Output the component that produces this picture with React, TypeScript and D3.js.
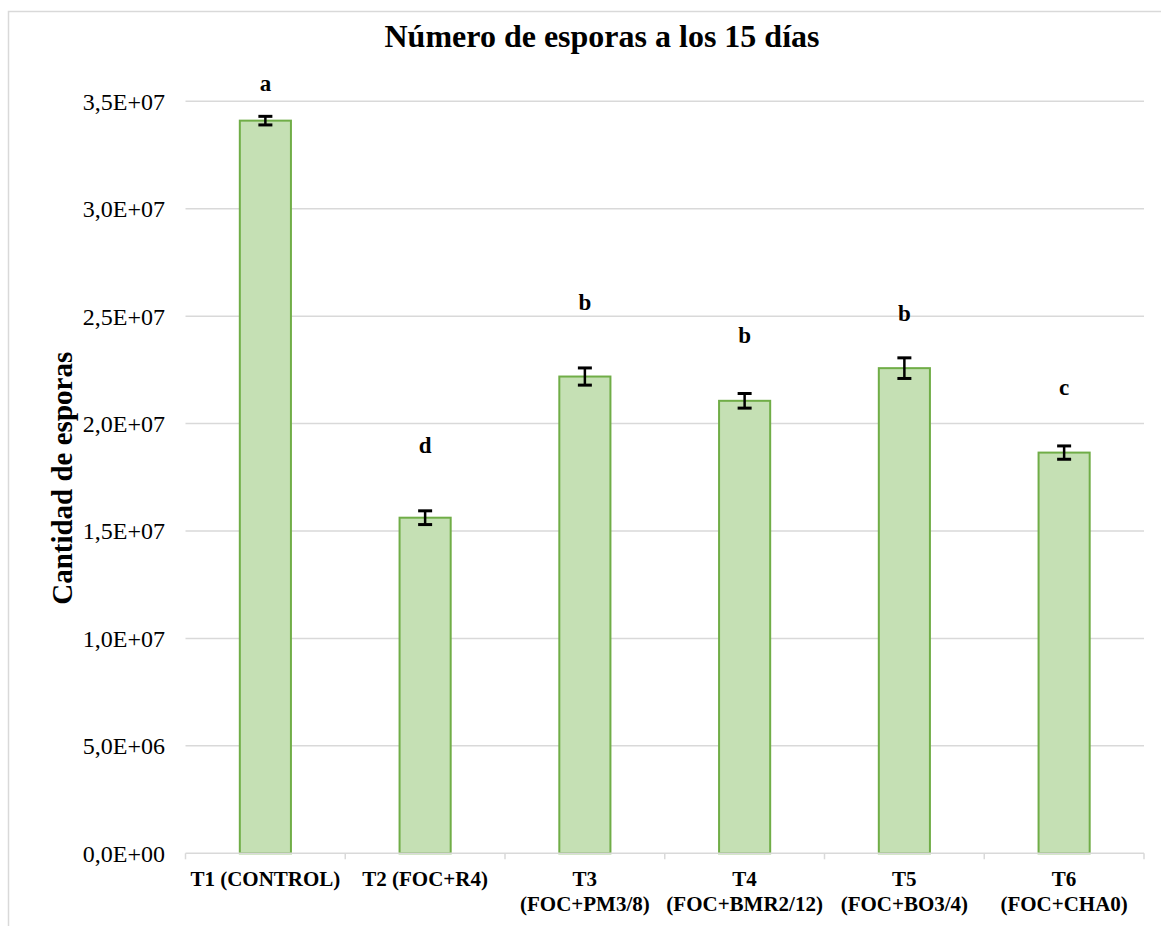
import React from "react";
import * as d3 from "d3";

const categories: string[][] = [
  ["T1 (CONTROL)"],
  ["T2 (FOC+R4)"],
  ["T3", "(FOC+PM3/8)"],
  ["T4", "(FOC+BMR2/12)"],
  ["T5", "(FOC+BO3/4)"],
  ["T6", "(FOC+CHA0)"],
];
const values: number[] = [3.41e7, 1.562e7, 2.219e7, 2.106e7, 2.258e7, 1.865e7];
const errors: number[] = [2.0e5, 3.2e5, 4.0e5, 3.4e5, 4.8e5, 3.1e5];
const letters: string[] = ["a", "d", "b", "b", "b", "c"];
const letterY: number[] = [3.55e7, 1.865e7, 2.529e7, 2.377e7, 2.479e7, 2.134e7];
const yTicks: number[] = [0, 5e6, 1e7, 1.5e7, 2e7, 2.5e7, 3e7, 3.5e7];

const fmt = (v: number) => {
  const [m, e] = v.toExponential(1).split("e");
  const sign = e[0] === "-" ? "-" : "+";
  const ex = Math.abs(parseInt(e, 10)).toString().padStart(2, "0");
  return `${m.replace(".", ",")}E${sign}${ex}`;
};

export default function App() {
  const W = 1161, H = 926;
  const x0 = 185.5, x1 = 1144;
  const yTop = 101.3, yBot = 853.3;
  const x = d3.scaleBand<number>().domain(d3.range(categories.length)).range([x0, x1]).padding(0);
  const y = d3.scaleLinear().domain([0, 3.5e7]).range([yBot, yTop]);
  const bw = x.bandwidth() * 0.32;
  const font = "'Liberation Serif', 'Times New Roman', serif";
  const capW = 7;
  const ts = { fontFamily: font };
  return (
    <svg width={W} height={H} style={{ position: "absolute", left: 0, top: 0 }}>
      <rect x={0} y={0} width={W} height={H} fill="#fff" />
      <path d={`M8.5,${H + 5}V11.5H${W + 5}`} fill="none" stroke="#D9D9D9" strokeWidth={1.5} />
      <text x={602} y={47} textAnchor="middle" fontSize={32} fontWeight="bold" style={ts}>Número de esporas a los 15 días</text>
      {yTicks.map((t) => (
        <g key={t}>
          {t > 0 && <line x1={x0} x2={x1} y1={y(t)} y2={y(t)} stroke="#D9D9D9" strokeWidth={1.5} />}
          <text x={165} y={y(t)} dy="0.35em" textAnchor="end" fontSize={24} style={ts}>{fmt(t)}</text>
        </g>
      ))}
      <text transform={`translate(72,${(yTop + yBot) / 2 + 1}) rotate(-90)`} textAnchor="middle" fontSize={29} fontWeight="bold" style={ts}>Cantidad de esporas</text>
      {values.map((v, i) => {
        const cx = (x(i) as number) + x.bandwidth() / 2;
        return (
          <g key={i}>
            <rect x={cx - bw / 2} y={y(v)} width={bw} height={yBot - y(v)} fill="#C5E0B4" stroke="#70AD47" strokeWidth={2} />
            <g stroke="#000" strokeWidth={2.5}>
              <line x1={cx} x2={cx} y1={y(v + errors[i])} y2={y(v - errors[i])} />
              <line x1={cx - capW} x2={cx + capW} y1={y(v + errors[i])} y2={y(v + errors[i])} strokeWidth={3} />
              <line x1={cx - capW} x2={cx + capW} y1={y(v - errors[i])} y2={y(v - errors[i])} strokeWidth={3} />
            </g>
            <text x={cx} y={y(letterY[i])} textAnchor="middle" fontSize={23} fontWeight="bold" style={ts}>{letters[i]}</text>
            {categories[i].map((ln, j) => (
              <text key={j} x={cx} y={886 + j * 25} textAnchor="middle" fontSize={21} fontWeight="bold" style={ts}>{ln}</text>
            ))}
          </g>
        );
      })}
      <line x1={x0} x2={x1} y1={yBot} y2={yBot} stroke="#D9D9D9" strokeWidth={1.5} />
      {d3.range(categories.length + 1).map((i) => {
        const tx = x0 + i * x.step();
        return <line key={i} x1={tx} x2={tx} y1={yBot} y2={yBot + 6} stroke="#D9D9D9" strokeWidth={1.5} />;
      })}
    </svg>
  );
}
